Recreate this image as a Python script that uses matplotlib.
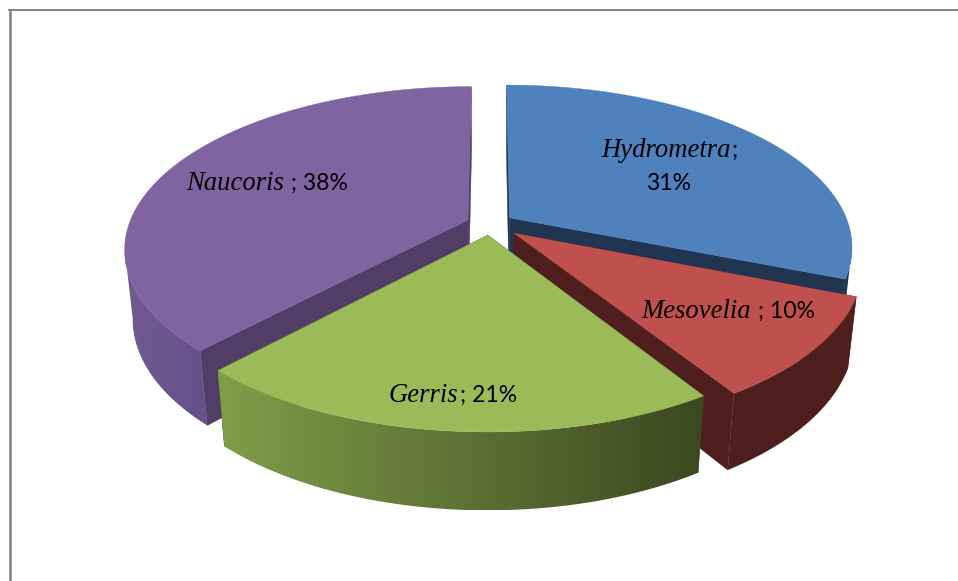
import numpy as np
import matplotlib
matplotlib.use("Agg")
import matplotlib.pyplot as plt
from matplotlib.patches import Polygon

# --- data ---
species = ["Hydrometra", "Mesovelia", "Gerris", "Naucoris"]
shares = [31, 10, 21, 38]
explode = [1.0, 1.3, 1.0, 1.0]
top_colors = ["#4f81bd", "#c0504d", "#9bbb59", "#8064a2"]
cut_colors = ["#1f3550", "#4f1f1e", "#3d4a21", "#503e66"]
wall_left = ["#1f3550", "#4f1f1e", "#7f9d49", "#6f5a91"]
wall_right = ["#1f3550", "#4f1f1e", "#3b4820", "#66508a"]
label_parts = [("Hydrometra", ";"), ("Mesovelia", " ; 10%"), ("Gerris", "; 21%"), ("Naucoris", " ; 38%")]
label_xy = [(601, 157), (641, 318), (389, 402), (186, 190)]

# --- projection of the tilted pie ---
W, H = 958, 581
CX, CY = 490, 224
A, B, P = 339, 158, 0.175
D, Q = 70, 0.022
E = 0.07


def project(theta, radius, offset, lower=False):
    X = radius * np.sin(theta) + offset[0]
    Y = -radius * np.cos(theta) + offset[1]
    denom = 1 - P * Y + (Q if lower else 0)
    sx = CX + A * X / denom
    sy = CY + (B * Y + (D if lower else 0)) / denom
    return np.column_stack([sx, sy])


fig = plt.figure(figsize=(W / 100, H / 100), dpi=100)
ax = fig.add_axes([0, 0, 1, 1])
ax.axis("off")

# frame
ax.plot([8.3, W + 5], [10, 10], color="#868686", lw=1.44, solid_capstyle="butt")
ax.plot([9.6, 9.6], [9, H + 5], color="#868686", lw=1.9, solid_capstyle="butt")

fractions = np.array(shares) / sum(shares)
edges = np.concatenate([[0], np.cumsum(fractions)]) * 2 * np.pi


def draw_slice(i, z):
    t0, t1 = edges[i], edges[i + 1]
    mid = (t0 + t1) / 2
    offset = (E * explode[i] * np.sin(mid), -E * explode[i] * np.cos(mid))
    ts = np.linspace(t0, t1, 300)
    top_arc = project(ts, 1, offset)
    low_arc = project(ts, 1, offset, lower=True)
    a_top = project(np.array([t0]), 0, offset)
    a_low = project(np.array([t0]), 0, offset, lower=True)
    # radial cut faces
    for k in (0, -1):
        quad = np.vstack([a_top, top_arc[k], low_arc[k], a_low])
        ax.add_patch(Polygon(quad, closed=True, fc=cut_colors[i], ec=cut_colors[i], lw=0.3, zorder=z))
    # outer wall (front-facing part of the rim only), shaded from left to right
    front = -np.cos(ts) >= P
    outline = np.vstack([top_arc[front], low_arc[front][::-1]])
    x0, x1 = outline[:, 0].min(), outline[:, 0].max()
    y0, y1 = outline[:, 1].min(), outline[:, 1].max()
    cl = np.array(matplotlib.colors.to_rgb(wall_left[i]))
    cr = np.array(matplotlib.colors.to_rgb(wall_right[i]))
    ramp = np.linspace(0, 1, 256)[:, None]
    grad = (cl + (cr - cl) * ramp)[None, :, :]
    im = ax.imshow(grad, extent=(x0, x1, y1, y0), aspect="auto", interpolation="bilinear", zorder=z + 0.1)
    im.set_clip_path(Polygon(outline, closed=True, transform=ax.transData))
    # top face
    ax.add_patch(Polygon(np.vstack([a_top, top_arc]), closed=True, fc=top_colors[i], ec=top_colors[i], lw=0.3, zorder=z + 0.2))


for z, i in enumerate([3, 0, 1, 2]):
    draw_slice(i, z + 1)

ax.set_xlim(0, W)
ax.set_ylim(H, 0)

# labels: italic serif name, sans remainder
renderer = fig.canvas.get_renderer()
for (name, rest), (x, y) in zip(label_parts, label_xy):
    t = ax.text(x, y, name, family="Liberation Serif", style="italic", fontsize=19.2, color="black", va="baseline", ha="left", zorder=10)
    bb = t.get_window_extent(renderer)
    ax.text(bb.x1 + 1, y, rest, family="Lato", fontsize=16.6, color="black", va="baseline", ha="left", zorder=10)
ax.text(669, 190, f"{shares[0]}%", family="Lato", fontsize=16.6, color="black", va="baseline", ha="center", zorder=10)

fig.savefig("out.png", dpi=100, facecolor="white")
